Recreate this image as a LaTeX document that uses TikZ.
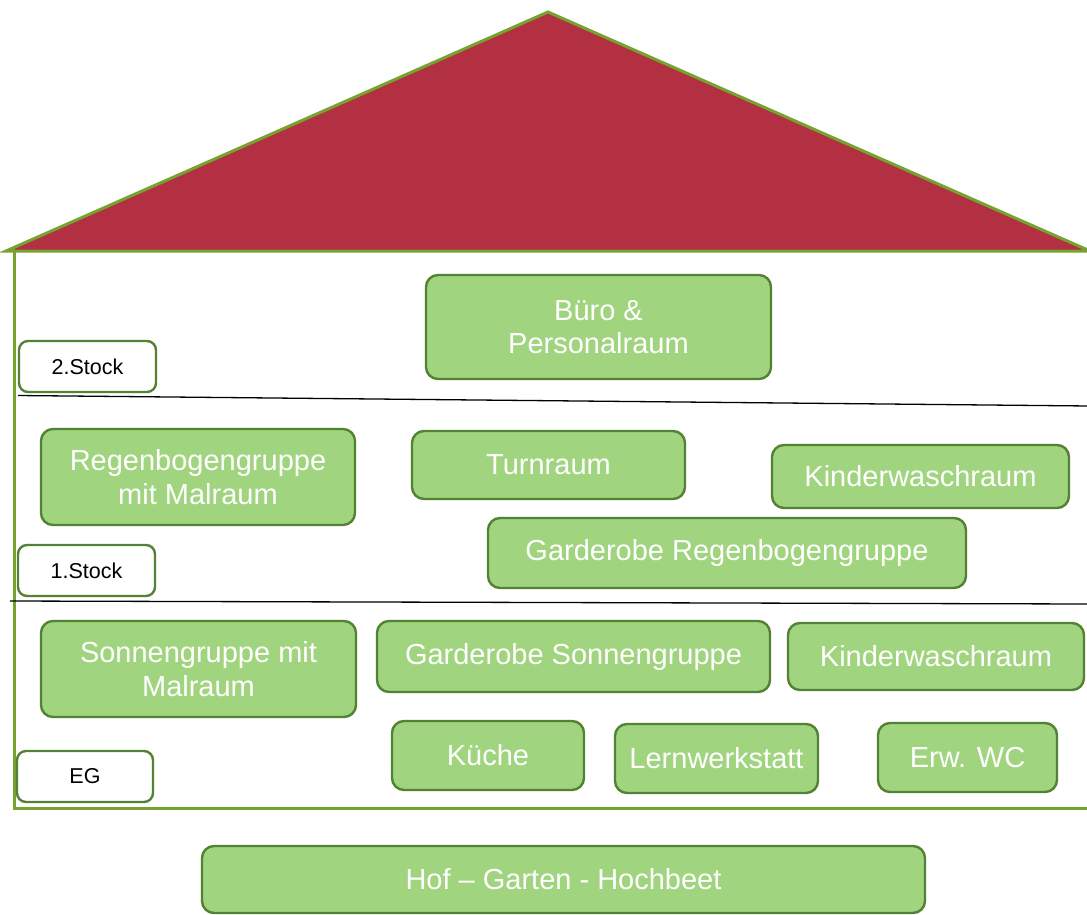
\documentclass[tikz,border=0pt]{standalone}
\usepackage{fontspec}
\setmainfont{Liberation Sans}
\definecolor{roofred}{RGB}{178,48,65}
\definecolor{roofgreen}{RGB}{118,163,48}
\definecolor{boxfill}{RGB}{160,212,126}
\definecolor{boxline}{RGB}{84,130,53}
\tikzset{
  room/.style={draw=boxline, line width=2.4pt, fill=boxfill, rounded corners=12pt,
    text=white, align=center, inner sep=0pt, font=\fontsize{29}{33.5}\selectfont},
  floorlabel/.style={draw=boxline, line width=2.4pt, fill=white, rounded corners=9pt,
    text=black, inner sep=0pt, font=\fontsize{21.5}{24}\selectfont},
  floorline/.style={draw=black, line width=1.3pt},
  wall/.style={draw=roofgreen, line width=3pt}
}
\begin{document}
\begin{tikzpicture}[x=1pt,y=-1pt]
\useasboundingbox (0,0) rectangle (1087,914);
% roof
\draw[fill=roofred, draw=roofgreen, line width=3pt, line join=miter]
  (6,251) -- (548,12) -- (1090,251) -- cycle;
% walls
\draw[wall] (14,251) -- (14,808) -- (1090,808);
% floor lines
\draw[floorline] (18,395.5) -- (1090,406);
\draw[floorline] (10,601) -- (1090,604);
% floor labels
\node[floorlabel, minimum width=137pt, minimum height=51pt] (l2) at (87.5,366.5) {2.Stock};
\node[floorlabel, minimum width=137pt, minimum height=51pt] (l1) at (86.5,570.5) {1.Stock};
\node[floorlabel, minimum width=136pt, minimum height=51pt] (l0) at (85,776.5) {EG};
% rooms 2nd floor
\node[room, minimum width=345pt, minimum height=104pt] (buero) at (598.5,327) {Büro \&\\Personalraum};
% rooms 1st floor
\node[room, minimum width=314pt, minimum height=96pt] (regen) at (198,477) {Regenbogengruppe\\mit Malraum};
\node[room, minimum width=273pt, minimum height=68pt] (turn) at (548.5,465) {Turnraum};
\node[room, minimum width=297pt, minimum height=63pt] (kwr1) at (920.5,476.5) {Kinderwaschraum};
\node[room, minimum width=478pt, minimum height=70pt] (garR) at (727,553) {Garderobe Regenbogengruppe};
% rooms ground floor
\node[room, minimum width=315pt, minimum height=96pt] (sonne) at (198.5,669) {Sonnengruppe mit\\Malraum};
\node[room, minimum width=393pt, minimum height=71pt] (garS) at (573.5,656.5) {Garderobe Sonnengruppe};
\node[room, minimum width=296pt, minimum height=67pt] (kwr0) at (936,656.5) {Kinderwaschraum};
\node[room, minimum width=192pt, minimum height=69pt] (kueche) at (488,755.5) {Küche};
\node[room, minimum width=203pt, minimum height=69pt] (lern) at (716.5,758.5) {Lernwerkstatt};
\node[room, minimum width=179pt, minimum height=69pt] (wc) at (967.5,757.5) {Erw. WC};
% yard
\node[room, minimum width=723pt, minimum height=67pt] (hof) at (563.5,879.5) {Hof – Garten - Hochbeet};
\end{tikzpicture}
\end{document}
